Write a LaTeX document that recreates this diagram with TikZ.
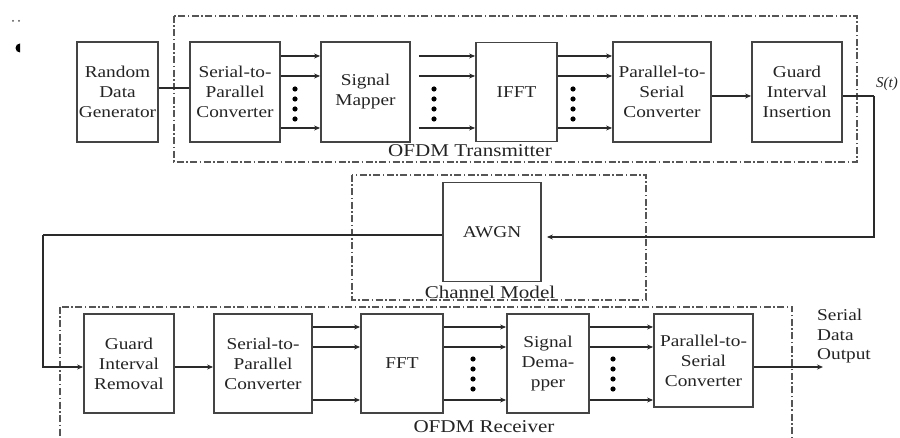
\documentclass[tikz,border=0pt]{standalone}
\usepackage{fontspec}
\setmainfont{Liberation Serif}[FakeStretch=1.17]
\newfontfamily\plainserif{Liberation Serif}
\usetikzlibrary{arrows.meta}
\definecolor{boxgray}{HTML}{444444}
\definecolor{wirec}{HTML}{2A2A2A}
\definecolor{txtc}{HTML}{242424}
\definecolor{grpc}{HTML}{555555}
\begin{document}
\begin{tikzpicture}[x=1pt,y=-1pt,
  blk/.style={draw=boxgray, line width=1.8pt, fill=white, inner sep=0pt,
    align=center, text=txtc, font=\fontsize{16.5}{20}\selectfont},
  wire/.style={draw=wirec, line width=1.6pt},
  arr/.style={wire, -{Stealth[length=6pt,width=5pt]}},
  grp/.style={draw=grpc, line width=1.2pt,
    dash pattern=on 7pt off 2.5pt on 1.5pt off 2.5pt},
  lbl/.style={text=txtc, font=\fontsize{18}{20}\selectfont, inner sep=0pt},
  dotc/.style={fill=black}]
\useasboundingbox (0,0) rectangle (900,438);
\clip (0,0) rectangle (900,438);

% group frames
\draw[grp] (174,16) rectangle (857,162);
\draw[grp] (352,175) rectangle (646,300);
\draw[grp] (60,307) rectangle (792,450);

% transmitter blocks
\node[blk, minimum width=81pt, minimum height=100pt] (rdg) at (117.5,92) {Random\\Data\\Generator};
\node[blk, minimum width=90pt, minimum height=100pt] (sp1) at (235,92) {Serial-to-\\Parallel\\Converter};
\node[blk, minimum width=89pt, minimum height=100pt] (map) at (365.5,92) {Signal\\Mapper};
\node[blk, minimum width=81pt, minimum height=99pt] (ifft) at (516.5,92) {IFFT};
\node[blk, minimum width=98pt, minimum height=100pt] (ps1) at (662,92) {Parallel-to-\\Serial\\Converter};
\node[blk, minimum width=90pt, minimum height=100pt] (gii) at (797,92) {Guard\\Interval\\Insertion};

% channel block
\node[blk, minimum width=98pt, minimum height=99pt] (awgn) at (492,232) {AWGN};

% receiver blocks
\node[blk, minimum width=90pt, minimum height=99pt] (gir) at (129,363.5) {Guard\\Interval\\Removal};
\node[blk, minimum width=98pt, minimum height=99pt] (sp2) at (263,363.5) {Serial-to-\\Parallel\\Converter};
\node[blk, minimum width=82pt, minimum height=99pt] (fft) at (402,363.5) {FFT};
\node[blk, minimum width=82pt, minimum height=99pt] (dem) at (548,363.5) {Signal\\Dema-\\pper};
\node[blk, minimum width=99pt, minimum height=93pt] (ps2) at (703.5,360.5) {Parallel-to-\\Serial\\Converter};

% group labels
\node[lbl] (txl) at (470,151) {OFDM Transmitter};
\node[lbl] (chl) at (490,292) {Channel Model};
\node[lbl] (rxl) at (484,427) {OFDM Receiver};

% transmitter connections
\draw[wire] (rdg.east |- 0,88) -- (sp1.west |- 0,88);
\foreach \yy in {56,76,128} {
  \draw[arr] (sp1.east |- 0,\yy) -- (map.west |- 0,\yy);
  \draw[arr] ([xshift=8pt]map.east |- 0,\yy) -- (ifft.west |- 0,\yy);
  \draw[arr] (ifft.east |- 0,\yy) -- (ps1.west |- 0,\yy);
}
\foreach \xx in {295,434,573}
  \foreach \yy in {89,99,109,119}
    \fill[dotc] (\xx,\yy) circle (2.6pt);
\draw[arr] (ps1.east |- 0,96) -- (gii.west |- 0,96);

% transmitter output through the channel
\coordinate (st) at (874,96);
\draw[wire] (gii.east |- st) -- (st);
\draw[arr] (st) |- ([xshift=5pt]awgn.east |- 0,237);
\node[text=txtc, font=\plainserif\fontsize{15}{18}\selectfont\itshape, anchor=west, inner sep=0pt] (stl) at (876,84) {S(t)};

% channel output to the receiver
\coordinate (bend) at (43,235);
\draw[wire] (awgn.west |- bend) -- (bend);
\draw[arr] (bend) |- (gir.west |- 0,367);

% receiver connections
\draw[arr] (gir.east |- 0,367) -- (sp2.west |- 0,367);
\foreach \yy in {327,347,400} {
  \draw[arr] (sp2.east |- 0,\yy) -- (fft.west |- 0,\yy);
  \draw[arr] (fft.east |- 0,\yy) -- (dem.west |- 0,\yy);
  \draw[arr] (dem.east |- 0,\yy) -- (ps2.west |- 0,\yy);
}
\foreach \xx in {473,613}
  \foreach \yy in {359,369,379,389}
    \fill[dotc] (\xx,\yy) circle (2.6pt);
\coordinate (out) at (823,367);
\draw[arr] (ps2.east |- out) -- (out);
\node[text=txtc, font=\fontsize{16.5}{19.5}\selectfont, align=left, anchor=north west, inner sep=0pt] (outl) at (817,309) {Serial\\Data\\Output};

% stray marks in the upper left corner
\fill[black!70] (13,21) circle (1pt) (19,21) circle (1pt);
\fill[black] (20,43.5) arc[start angle=90, end angle=270, radius=4.5pt] -- cycle;
\end{tikzpicture}
\end{document}
